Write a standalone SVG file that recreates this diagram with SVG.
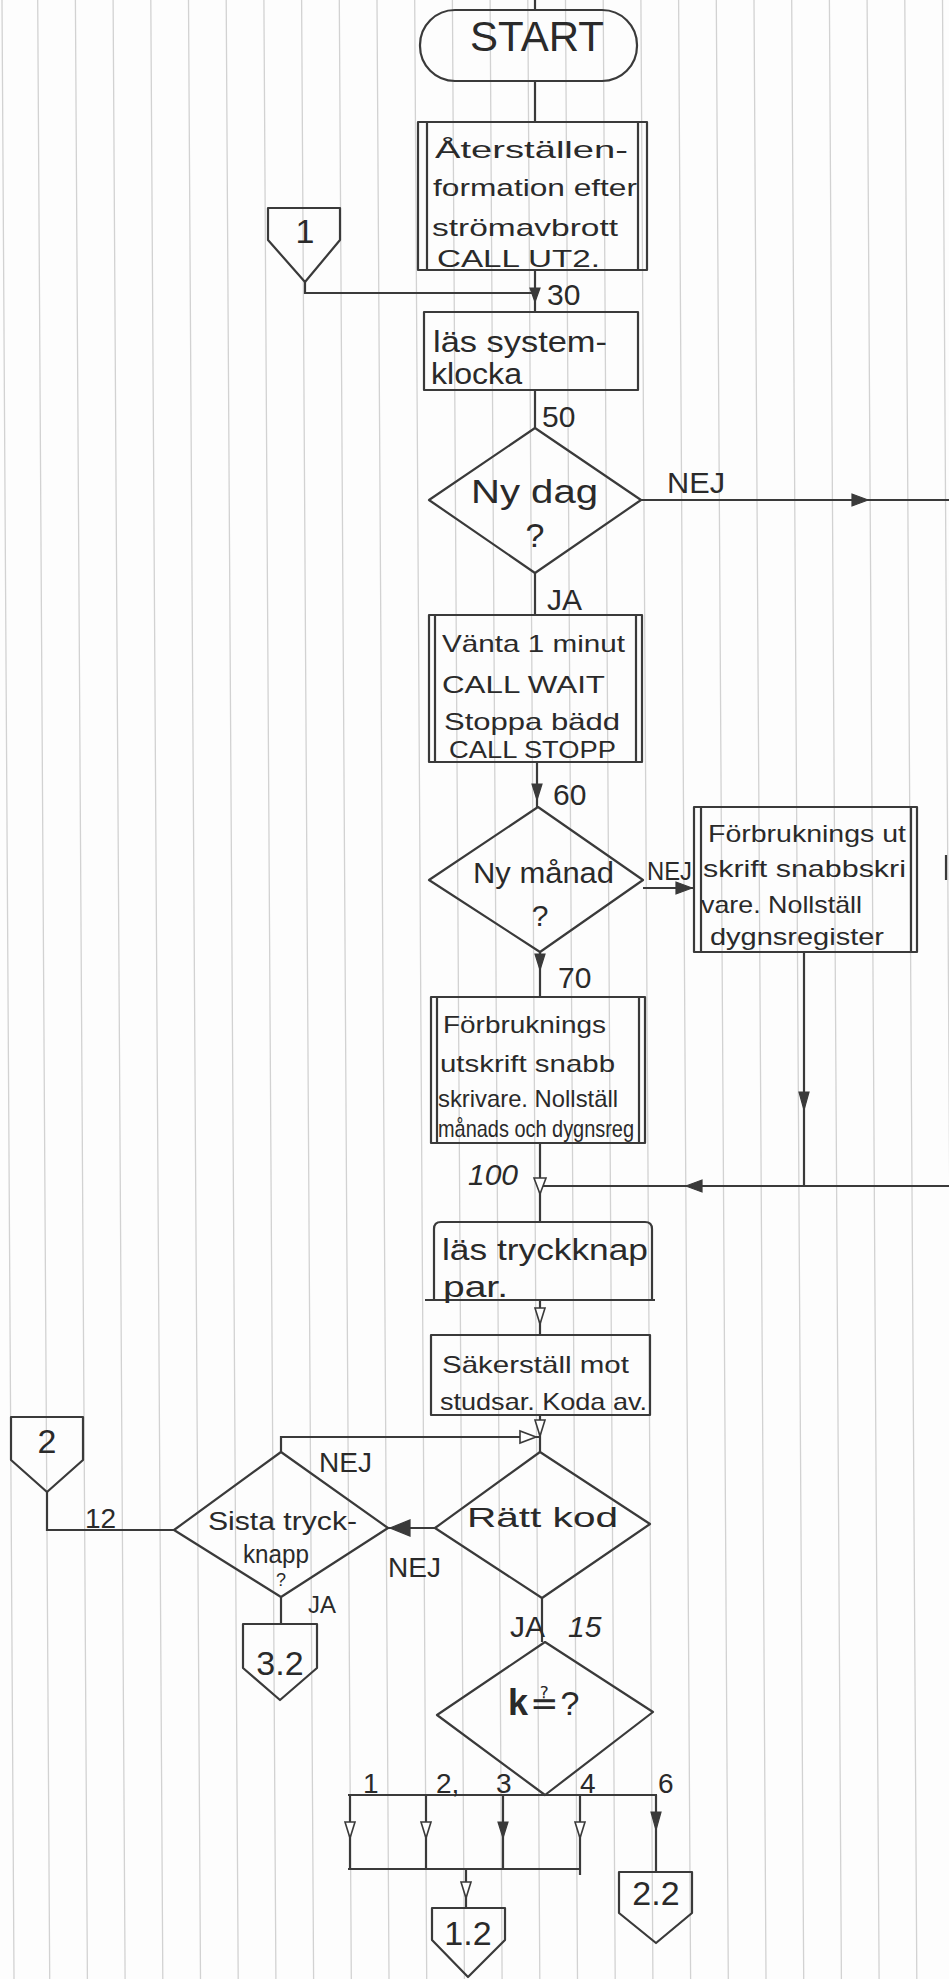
<svg xmlns="http://www.w3.org/2000/svg" width="949" height="1979" viewBox="0 0 949 1979">
<style>
.paper{stroke:#d2d2d2;stroke-width:1.3;fill:none}
.n{fill:none;stroke:#3a3a3a;stroke-width:2.2;stroke-linejoin:round}
.c{fill:none;stroke:#3a3a3a;stroke-width:2.2}
.ah{fill:#3a3a3a;stroke:#3a3a3a;stroke-width:1.2}
.ho{fill:#fff;stroke:#3a3a3a;stroke-width:1.6}
text{font-family:"Liberation Sans","DejaVu Sans",sans-serif;fill:#2a2a2a}
.b{font-size:24px}
.l{font-size:30px}
.m{font-size:34px;text-anchor:middle}
</style>
<rect width="949" height="1979" fill="#fdfdfd"/>
<g id="paper">
<path class="paper" d="M37.7 0L49.7 1979M75.4 0L87.4 1979M113.1 0L125.1 1979M150.8 0L162.8 1979M188.5 0L200.5 1979M226.2 0L238.2 1979M263.9 0L275.9 1979M301.6 0L313.6 1979M339.3 0L351.3 1979M377 0L389 1979M414.7 0L426.7 1979M452.4 0L464.4 1979M490.1 0L502.1 1979M527.8 0L539.8 1979M565.5 0L577.5 1979M603.2 0L615.2 1979M640.9 0L652.9 1979M678.6 0L690.6 1979M716.3 0L728.3 1979M754 0L766 1979M791.7 0L803.7 1979M829.4 0L841.4 1979M867.1 0L879.1 1979M904.8 0L916.8 1979M942.5 0L954.5 1979M2 0L14 1979"/>
</g>
<g id="connectors">
<path class="c" d="M535 0V10M535 81V122M535 270V312M305 282V293H535M535 390V428M535 573V615M641 500H949M537 762V807M540 952V997M643 888H694M804 952V1186M949 1186H540M540 1143V1222M540 1300V1335M540 1415V1452M281 1452V1437H540M435 1528H388M174 1530H47V1492M281 1597V1625M542 1598V1642M348 1795H657M350 1795V1869M426 1795V1869M503 1795V1869M580 1795V1875M348 1869H580M466 1869V1908M656 1795V1872M946 855V880"/>
<polygon class="ah" points="530,288 540,288 535,302"/>
<polygon class="ah" points="852,494 852,506 868,500"/>
<polygon class="ah" points="532,784 542,784 537,800"/>
<polygon class="ah" points="535,954 545,954 540,970"/>
<polygon class="ah" points="676,882 676,894 692,888"/>
<polygon class="ah" points="799,1092 809,1092 804,1110"/>
<polygon class="ah" points="702,1180 702,1192 686,1186"/>
<polygon class="ho" points="534,1178 546,1178 540,1194"/>
<polygon class="ho" points="535,1308 545,1308 540,1324"/>
<polygon class="ho" points="535,1420 545,1420 540,1436"/>
<polygon class="ho" points="520,1431 520,1443 536,1437"/>
<polygon class="ah" points="410,1520 410,1536 390,1528"/>
<polygon class="ho" points="345,1822 355,1822 350,1838"/>
<polygon class="ho" points="421,1822 431,1822 426,1838"/>
<polygon class="ah" points="498,1822 508,1822 503,1838"/>
<polygon class="ho" points="575,1822 585,1822 580,1838"/>
<polygon class="ah" points="651,1812 661,1812 656,1830"/>
<polygon class="ho" points="461,1882 471,1882 466,1898"/>
<text class="l" x="547" y="305">30</text>
<text class="l" x="542" y="427">50</text>
<text class="l" x="667" y="493" textLength="58" lengthAdjust="spacingAndGlyphs">NEJ</text>
<text class="l" x="547" y="610">JA</text>
<text class="l" x="553" y="805">60</text>
<text x="647" y="880" font-size="26" textLength="45" lengthAdjust="spacingAndGlyphs">NEJ</text>
<text class="l" x="558" y="988">70</text>
<text class="l" x="468" y="1185" font-style="italic">100</text>
<text x="319" y="1472" font-size="28">NEJ</text>
<text x="388" y="1577" font-size="28">NEJ</text>
<text x="85" y="1528" font-size="28">12</text>
<text x="308" y="1613" font-size="24">JA</text>
<text x="510" y="1637" font-size="30">JA</text>
<text x="568" y="1637" font-size="30" font-style="italic">15</text>
<text x="363" y="1793" font-size="28">1</text>
<text x="436" y="1793" font-size="28">2,</text>
<text x="496" y="1793" font-size="28">3</text>
<text x="580" y="1793" font-size="28">4</text>
<text x="658" y="1793" font-size="28">6</text>
</g>
<g id="start">
<rect class="n" x="420" y="10" width="217" height="71" rx="35"/>
<text x="537" y="51" font-size="42" text-anchor="middle">START</text>
</g>
<g id="restore">
<rect class="n" x="418" y="122" width="229" height="148"/>
<path class="n" d="M427 122V270M638 122V270"/>
<text class="b" x="435" y="158" textLength="193" lengthAdjust="spacingAndGlyphs">Återställen-</text>
<text class="b" x="433" y="196" textLength="204" lengthAdjust="spacingAndGlyphs">formation efter</text>
<text class="b" x="432" y="236" textLength="186" lengthAdjust="spacingAndGlyphs">strömavbrott</text>
<text class="b" x="437" y="267" textLength="163" lengthAdjust="spacingAndGlyphs">CALL UT2.</text>
</g>
<g id="conn1">
<polygon class="n" points="268,208 340,208 340,240 305,282 268,240"/>
<text class="m" x="305" y="243">1</text>
</g>
<g id="las_system">
<rect class="n" x="424" y="312" width="214" height="78"/>
<text class="l" x="433" y="352" textLength="174" lengthAdjust="spacingAndGlyphs">läs system-</text>
<text class="l" x="431" y="384" textLength="91" lengthAdjust="spacingAndGlyphs">klocka</text>
</g>
<g id="ny_dag">
<polygon class="n" points="535,428 641,500 535,573 429,500"/>
<text x="471" y="503" font-size="34" textLength="127" lengthAdjust="spacingAndGlyphs">Ny dag</text>
<text x="535" y="547" font-size="34" text-anchor="middle">?</text>
</g>
<g id="vanta">
<rect class="n" x="429" y="615" width="213" height="147"/>
<path class="n" d="M435 615V762M636 615V762"/>
<text class="b" x="442" y="652" textLength="183" lengthAdjust="spacingAndGlyphs">Vänta 1 minut</text>
<text class="b" x="442" y="693" textLength="163" lengthAdjust="spacingAndGlyphs">CALL WAIT</text>
<text class="b" x="444" y="730" textLength="176" lengthAdjust="spacingAndGlyphs">Stoppa bädd</text>
<text class="b" x="449" y="758" textLength="167" lengthAdjust="spacingAndGlyphs">CALL STOPP</text>
</g>
<g id="ny_manad">
<polygon class="n" points="538,807 643,880 540,952 429,880"/>
<text x="473" y="883" font-size="30" textLength="141" lengthAdjust="spacingAndGlyphs">Ny månad</text>
<text x="540" y="926" font-size="30" text-anchor="middle">?</text>
</g>
<g id="forbr_dygn">
<rect class="n" x="694" y="807" width="223" height="145"/>
<path class="n" d="M701 807V952M911 807V952"/>
<text class="b" x="708" y="842" textLength="198" lengthAdjust="spacingAndGlyphs">Förbruknings ut</text>
<text class="b" x="703" y="877" textLength="203" lengthAdjust="spacingAndGlyphs">skrift snabbskri</text>
<text class="b" x="701" y="913" textLength="161" lengthAdjust="spacingAndGlyphs">vare. Nollställ</text>
<text class="b" x="710" y="945" textLength="174" lengthAdjust="spacingAndGlyphs">dygnsregister</text>
</g>
<g id="forbr_manad">
<rect class="n" x="431" y="997" width="214" height="146"/>
<path class="n" d="M437 997V1143M639 997V1143"/>
<text class="b" x="443" y="1033" textLength="163" lengthAdjust="spacingAndGlyphs">Förbruknings</text>
<text class="b" x="440" y="1072" textLength="175" lengthAdjust="spacingAndGlyphs">utskrift snabb</text>
<text class="b" x="438" y="1107" textLength="180" lengthAdjust="spacingAndGlyphs">skrivare. Nollställ</text>
<text class="b" x="438" y="1137" textLength="196" lengthAdjust="spacingAndGlyphs">månads och dygnsreg</text>
</g>
<g id="las_tryck">
<path class="n" d="M434 1300V1229Q434 1222 441 1222H645Q652 1222 652 1229V1300M425 1300H655"/>
<text class="l" x="442" y="1260" textLength="206" lengthAdjust="spacingAndGlyphs">läs tryckknap</text>
<text class="l" x="443" y="1297" textLength="65" lengthAdjust="spacingAndGlyphs">par.</text>
</g>
<g id="sakerstall">
<rect class="n" x="431" y="1335" width="219" height="80"/>
<text class="b" x="442" y="1373" textLength="187" lengthAdjust="spacingAndGlyphs">Säkerställ mot</text>
<text class="b" x="440" y="1410" textLength="207" lengthAdjust="spacingAndGlyphs">studsar. Koda av.</text>
</g>
<g id="ratt_kod">
<polygon class="n" points="540,1452 650,1524 542,1598 435,1528"/>
<text x="467" y="1527" font-size="28" textLength="151" lengthAdjust="spacingAndGlyphs">Rätt kod</text>
</g>
<g id="sista">
<polygon class="n" points="281,1452 388,1528 281,1597 174,1530"/>
<text x="208" y="1530" font-size="26" textLength="149" lengthAdjust="spacingAndGlyphs">Sista tryck-</text>
<text x="243" y="1563" font-size="26" textLength="66" lengthAdjust="spacingAndGlyphs">knapp</text>
<text x="281" y="1586" font-size="18" text-anchor="middle">?</text>
</g>
<g id="conn2">
<polygon class="n" points="11,1417 83,1417 83,1460 47,1492 11,1460"/>
<text class="m" x="47" y="1453" font-size="38">2</text>
</g>
<g id="conn32">
<polygon class="n" points="243,1624 317,1624 317,1668 280,1700 243,1668"/>
<text class="m" x="280" y="1675">3.2</text>
</g>
<g id="k_case">
<polygon class="n" points="545,1642 653,1712 545,1795 437,1715"/>
<text x="508" y="1715" font-size="34"><tspan font-weight="bold" font-size="36">k</tspan><tspan dx="2">≟</tspan><tspan dx="2">?</tspan></text>
</g>
<g id="conn12">
<polygon class="n" points="432,1908 505,1908 505,1940 468,1977 432,1940"/>
<text class="m" x="468" y="1945">1.2</text>
</g>
<g id="conn22">
<polygon class="n" points="619,1872 692,1872 692,1913 656,1943 619,1913"/>
<text class="m" x="656" y="1905">2.2</text>
</g>
</svg>
